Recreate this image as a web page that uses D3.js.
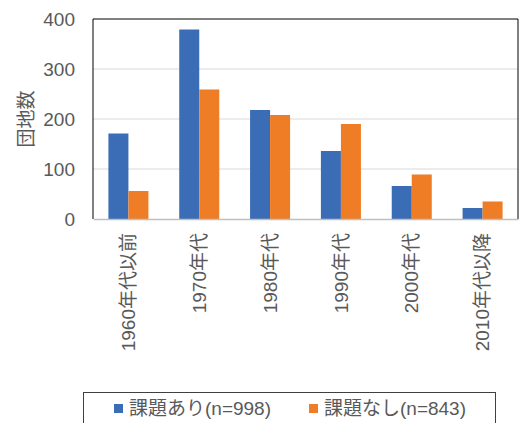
<!DOCTYPE html>
<html>
<head>
<meta charset="utf-8">
<script src="https://cdn.jsdelivr.net/npm/d3@7"></script>
<style>
  body { margin: 0; background: #fff; }
  svg text { font-family: "Liberation Sans", Arial, "Noto Sans CJK JP", sans-serif; fill: #595959; }
</style>
</head>
<body>
<div id="chart"></div>
<script>
const categories = ['1960年代以前', '1970年代', '1980年代', '1990年代', '2000年代', '2010年代以降'];
const seriesNames = ['課題あり(n=998)', '課題なし(n=843)'];
const withIssue = [171, 379, 218, 136, 66, 22];
const withoutIssue = [56, 259, 208, 190, 89, 35];
const yTicks = [0, 100, 200, 300, 400];
const colors = ['#3B6CB6', '#EE7D25'];

const width = 523, height = 423;
const plot = { left: 93, top: 19, right: 518, bottom: 219 };

const svg = d3.select('#chart').append('svg')
  .attr('width', width)
  .attr('height', height);

/* Scale */
const x = d3.scaleBand()
  .domain(categories)
  .range([plot.left, plot.right])
  .paddingInner(0.435)
  .paddingOuter(0.2175);

const xSub = d3.scaleBand()
  .domain([0, 1])
  .range([0, x.bandwidth()]);

const y = d3.scaleLinear()
  .domain([0, 400])
  .range([plot.bottom, plot.top]);

// gridlines
svg.append('g')
  .selectAll('line')
  .data(yTicks.filter(d => d > 0 && d < 400))
  .enter().append('line')
  .attr('x1', plot.left)
  .attr('x2', plot.right)
  .attr('y1', d => y(d))
  .attr('y2', d => y(d))
  .attr('stroke', '#D9D9D9')
  .attr('stroke-width', 1);

// bars
const rows = categories.map((c, i) => ({ cat: c, values: [withIssue[i], withoutIssue[i]] }));
svg.append('g')
  .selectAll('g')
  .data(rows).enter()
  .append('g')
  .attr('transform', d => `translate(${x(d.cat)},0)`)
  .selectAll('rect')
  .data(d => d.values.map((v, k) => ({ v, k }))).enter()
  .append('rect')
  .attr('x', d => xSub(d.k))
  .attr('y', d => y(d.v))
  .attr('width', xSub.bandwidth())
  .attr('height', d => y(0) - y(d.v))
  .attr('fill', d => colors[d.k]);

// plot frame
svg.append('path')
  .attr('d', `M${plot.left},${plot.bottom}V${plot.top}H${plot.right}V${plot.bottom}`)
  .attr('fill', 'none')
  .attr('stroke', '#000')
  .attr('stroke-width', 1);

/* Axis */
const xAxis = d3.axisBottom(x).tickSize(0).tickPadding(0);
const gx = svg.append('g')
  .attr('transform', `translate(0,${plot.bottom})`)
  .call(xAxis);
gx.select('.domain').attr('stroke', '#BFBFBF').attr('stroke-width', 1.5);
gx.selectAll('text')
  .attr('transform', 'translate(0,14) rotate(-90)')
  .attr('x', 0)
  .attr('y', 0)
  .attr('dy', '0.35em')
  .attr('text-anchor', 'end')
  .style('font-size', '19px')
  .style('fill', '#595959');

const yAxis = d3.axisLeft(y).tickValues(yTicks).tickSize(0).tickPadding(18);
const gy = svg.append('g')
  .attr('transform', `translate(${plot.left},0)`)
  .call(yAxis);
gy.select('.domain').remove();
gy.selectAll('text')
  .style('font-size', '19px')
  .style('fill', '#595959');

svg.append('text')
  .attr('transform', `translate(33,${(plot.top + plot.bottom) / 2}) rotate(-90)`)
  .attr('text-anchor', 'middle')
  .style('font-size', '19px')
  .text('団地数');

// legend
const legend = svg.append('g');
legend.append('rect')
  .attr('x', 83.5)
  .attr('y', 392.5)
  .attr('width', 412)
  .attr('height', 40)
  .attr('fill', '#fff')
  .attr('stroke', '#404040')
  .attr('stroke-width', 1);

const legendX = [114, 309];
seriesNames.forEach((name, i) => {
  legend.append('rect')
    .attr('x', legendX[i])
    .attr('y', 404)
    .attr('width', 9)
    .attr('height', 9)
    .attr('fill', colors[i]);
  legend.append('text')
    .attr('x', legendX[i] + 15)
    .attr('y', 415)
    .style('font-size', '19px')
    .text(name);
});
</script>
</body>
</html>
